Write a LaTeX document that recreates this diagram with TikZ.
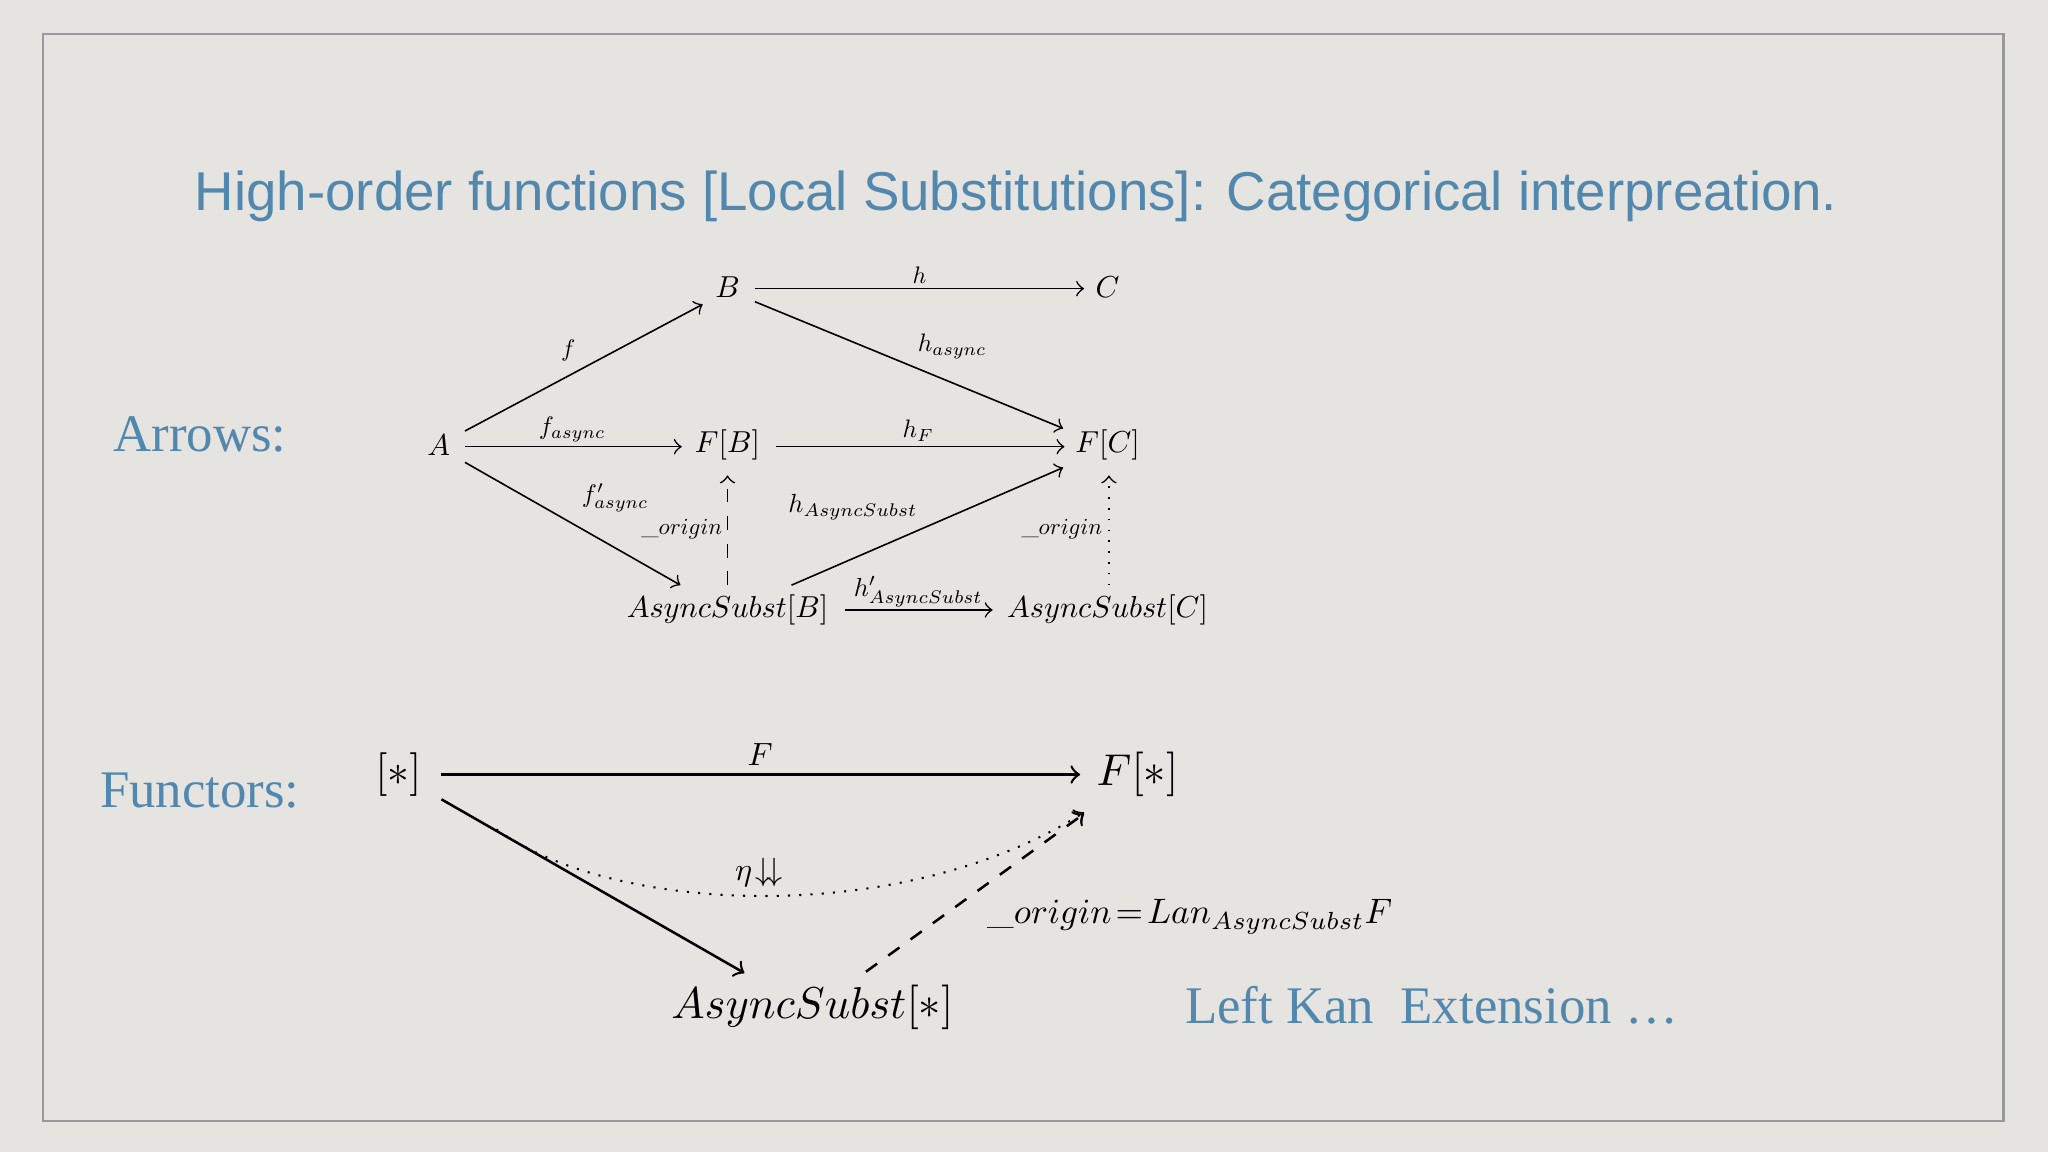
\documentclass[tikz,border=0pt]{standalone}
\usepackage{fontspec}
\newfontfamily\titlefont{Liberation Sans}
\newfontfamily\serifb{Liberation Serif}
\definecolor{bg}{HTML}{E6E4E0}
\definecolor{ttl}{HTML}{5287AE}
\newcommand\mysc[2]{\scalebox{#1}{$#2$}}
\begin{document}
\begin{tikzpicture}[x=0.01cm,y=-0.01cm,
  m/.style={inner sep=1pt},
  ar/.style={->,line width=0.35pt},
  arb/.style={->,line width=0.55pt}]
\fill[bg] (0,0) rectangle (1568,882);
\useasboundingbox (0,0) rectangle (1568,882);
\draw[gray!80,line width=0.5pt] (33,26) rectangle (1534,858);
\node[text=ttl,font=\titlefont\fontsize{11.9pt}{14pt}\selectfont] (title) at (778,150) {High-order functions [Local Substitutions]: Categorical interpreation.};
\node[text=ttl,font=\serifb\fontsize{11.5pt}{13pt}\selectfont] (arrows) at (153,333) {Arrows:};
\node[text=ttl,font=\serifb\fontsize{11.5pt}{13pt}\selectfont] (functors) at (153,605) {Functors:};
\node[text=ttl,font=\serifb\fontsize{11.5pt}{13pt}\selectfont] (kan) at (1096,770) {Left Kan\ \ Extension \dots};
% arrows diagram
\node[m] (A) at (336,341) {\mysc{0.66}{A}};
\node[m] (B) at (557,220) {\mysc{0.66}{B}};
\node[m] (C) at (848,220) {\mysc{0.66}{C}};
\node[m] (FB) at (557,341) {\mysc{0.66}{F[B]}};
\node[m] (FC) at (848,341) {\mysc{0.66}{F[C]}};
\node[m] (AB) at (557,467) {\mysc{0.66}{AsyncSubst[B]}};
\node[m] (AC) at (848,467) {\mysc{0.66}{AsyncSubst[C]}};
\coordinate (bc1) at (578,221); \coordinate (bc2) at (830,221);
\coordinate (bf1) at (578,231); \coordinate (bf2) at (814,328);
\coordinate (ab1) at (356,330); \coordinate (ab2) at (538,233);
\coordinate (af1) at (356,342); \coordinate (af2) at (522,342);
\coordinate (ff1) at (594,342); \coordinate (ff2) at (815,342);
\coordinate (aa1) at (356,354); \coordinate (aa2) at (521,448);
\coordinate (df1) at (557,448); \coordinate (df2) at (557,364);
\coordinate (sf1) at (606,448); \coordinate (sf2) at (814,358);
\coordinate (ss1) at (647,467); \coordinate (ss2) at (760,467);
\coordinate (cf1) at (849,448); \coordinate (cf2) at (849,364);
\draw[ar] (bc1) -- (bc2);
\node[m] (lh) at (704,211) {\mysc{0.52}{h}};
\draw[ar] (bf1) -- (bf2);
\node[m] (lha) at (729,265) {\mysc{0.55}{h_{async}}};
\draw[ar] (ab1) -- (ab2);
\node[m] (lf) at (435,268) {\mysc{0.52}{f}};
\draw[ar] (af1) -- (af2);
\node[m] (lfa) at (438,329) {\mysc{0.55}{f_{async}}};
\draw[ar] (ff1) -- (ff2);
\node[m] (lhf) at (703,330) {\mysc{0.55}{h_F}};
\draw[ar] (aa1) -- (aa2);
\node[m] (lfp) at (471,381) {\mysc{0.55}{f'_{async}}};
\draw[ar,dashed] (df1) -- (df2);
\node[m] (lo1) at (522,405) {\mysc{0.5}{\_origin}};
\draw[ar] (sf1) -- (sf2);
\node[m] (lhs) at (653,388) {\mysc{0.57}{h_{AsyncSubst}}};
\draw[ar] (ss1) -- (ss2);
\node[m] (lhsp) at (703,453) {\mysc{0.57}{h'_{AsyncSubst}}};
\draw[ar,dotted] (cf1) -- (cf2);
\node[m] (lo2) at (813,405) {\mysc{0.5}{\_origin}};
% functors diagram
\node[m] (S) at (305,593) {\mysc{0.95}{[*]}};
\node[m] (FS) at (871,593) {\mysc{0.97}{F[*]}};
\node[m] (AS) at (622,771) {\mysc{0.97}{AsyncSubst[*]}};
\coordinate (s1) at (338,593); \coordinate (s2) at (827,593);
\coordinate (t1) at (338,612); \coordinate (t2) at (570,745);
\coordinate (u1) at (663,744); \coordinate (u2) at (830,623);
\draw[arb] (s1) -- (s2);
\node[m] (lF) at (582,578) {\mysc{0.7}{F}};
\draw[arb] (t1) -- (t2);
\draw[arb,dashed] (u1) -- (u2);
\node[m] (lo3) at (911,702) {\mysc{0.77}{\_origin\!=\!Lan_{AsyncSubst}F}};
\coordinate (d1) at (380,635);
\coordinate (d2) at (830,622);
\draw[->,dotted,line width=0.45pt] (d1) .. controls (470,700) and (690,710) .. (d2);
\node[m] (leta) at (581,668) {\mysc{0.7}{\eta\!\downarrow\!\downarrow}};
\end{tikzpicture}
\end{document}
